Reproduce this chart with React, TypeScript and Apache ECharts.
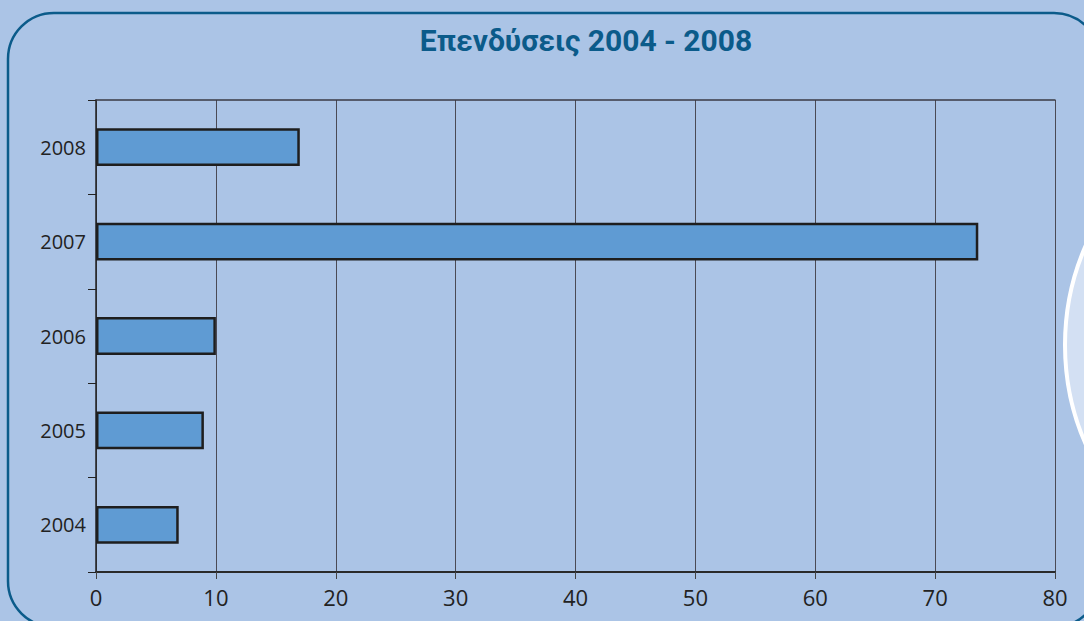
import React, { useEffect, useRef } from "react";
import * as echarts from "echarts";

const titleText = "Επενδύσεις 2004 - 2008";
const years = ["2004", "2005", "2006", "2007", "2008"];
const values = [6.9, 9.0, 10.0, 73.6, 17.0];
const xMin = 0;
const xMax = 80;
const xStep = 10;

export default function App() {
  const ref = useRef<HTMLDivElement>(null);
  useEffect(() => {
    document.body.style.margin = "0";
    const chart = echarts.init(ref.current!, null, { renderer: "svg" });
    chart.setOption({
      animation: false,
      backgroundColor: "#abc4e6",
      title: {
        text: titleText,
        left: 581,
        top: 20,
        textAlign: "center",
        textStyle: {
          fontFamily: "Roboto",
          fontWeight: "bold",
          fontSize: 30,
          color: "#0b5b8a",
        },
      },
      graphic: [
        {
          type: "rect",
          silent: true,
          z: -1,
          shape: { x: 8, y: 13, width: 1092, height: 614, r: 46 },
          style: { fill: "none", stroke: "#0b5b8a", lineWidth: 2.5 },
        },
        {
          type: "circle",
          silent: true,
          z: -1,
          shape: { cx: 1312, cy: 345, r: 247 },
          style: { fill: "#d3e0f3", stroke: "#ffffff", lineWidth: 4 },
        },
      ],
      grid: { left: 96, right: 29, top: 100, bottom: 49, containLabel: false },
      xAxis: [
        {
          type: "value",
          min: xMin,
          max: xMax,
          interval: xStep,
          position: "bottom",
          axisLine: { show: true, lineStyle: { color: "#2a2a2a", width: 2 } },
          axisTick: { show: true, length: 7, lineStyle: { color: "#444", width: 1 } },
          axisLabel: {
            fontFamily: "Open Sans",
            fontSize: 22,
            color: "#222",
            margin: 14,
          },
          splitLine: { show: true, lineStyle: { color: "#4a4a55", width: 1 } },
        },
        {
          type: "value",
          min: xMin,
          max: xMax,
          interval: xStep,
          position: "top",
          axisLine: { show: true, lineStyle: { color: "#3a3a44", width: 1.5 } },
          axisTick: { show: false },
          axisLabel: { show: false },
          splitLine: { show: false },
        },
      ],
      yAxis: {
        type: "category",
        data: years,
        boundaryGap: true,
        axisLine: { show: true, lineStyle: { color: "#222", width: 1.5 } },
        axisTick: { show: true, length: 8, lineStyle: { color: "#222", width: 1 } },
        axisLabel: {
          fontFamily: "Open Sans",
          fontSize: 20,
          color: "#222",
          margin: 10,
        },
        splitLine: { show: false },
      },
      series: [
        {
          type: "bar",
          data: values,
          xAxisIndex: 0,
          barWidth: "40%",
          itemStyle: {
            color: "#5f9bd3",
            borderColor: "#1e1e1e",
            borderWidth: 2.5,
          },
        },
      ],
    });
    return () => chart.dispose();
  }, []);
  return <div ref={ref} style={{ width: 1084, height: 621 }} />;
}
